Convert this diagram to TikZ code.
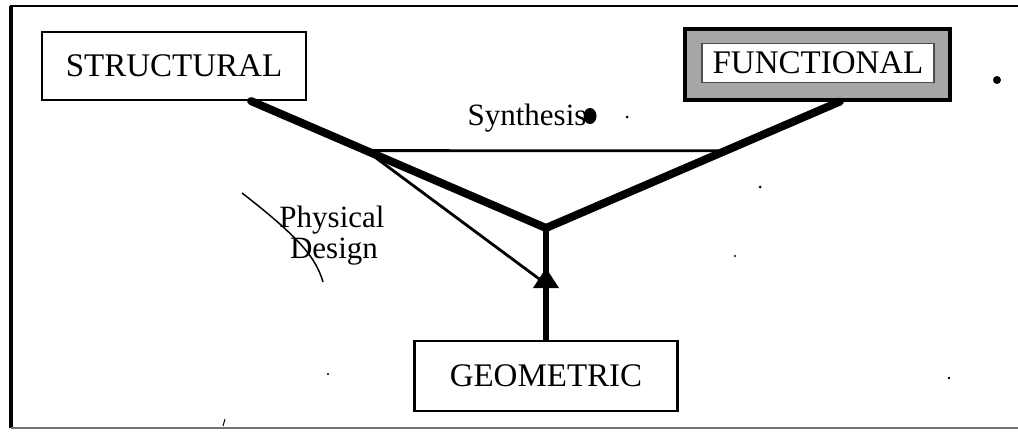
\documentclass[tikz,border=0pt]{standalone}
\usepackage{fontspec}
\setmainfont{Liberation Serif}
\usetikzlibrary{calc}
\tikzset{
  boxnode/.style={draw=black, line width=2.2pt, fill=white, inner sep=0pt, font=\fontsize{33}{33}\selectfont},
  thickline/.style={line width=8pt, line cap=round, line join=round},
  thinline/.style={line width=2.8pt},
  labeltext/.style={font=\fontsize{31}{31}\selectfont, inner sep=0pt},
  speck/.style={fill=black}
}
\begin{document}
\begin{tikzpicture}[x=1pt,y=-1pt]
\useasboundingbox (0,0) rectangle (1018,434);
\fill[white] (0,0) rectangle (1018,434);
% outer frame
\draw[line width=2.6pt] (10,6) -- (1018,6);
\draw[line width=3.2pt] (11,6) -- (11,428);
\draw[line width=1.8pt, black!55] (11,428) -- (1018,428);

% boxes
\node[boxnode, minimum width=264pt, minimum height=68pt] (S) at (174,66) {STRUCTURAL};
\node[draw=black, line width=4pt, fill=black!35, minimum width=265pt, minimum height=71pt, inner sep=0pt] (F) at (817,64) {};
\node[draw=black!70, line width=1.5pt, fill=white, minimum width=232pt, minimum height=39pt, inner sep=0pt, font=\fontsize{33}{33}\selectfont] (Ft) at (818,63) {FUNCTIONAL};
\node[boxnode, minimum width=263pt, minimum height=70pt] (G) at (546,376) {GEOMETRIC};

% junction and connectors
\coordinate (J) at (546,228);
\coordinate (a) at ([xshift=-56pt]S.south east);
\coordinate (b) at ([xshift=23pt]F.south);
\draw[thickline] (a) -- (J);
\draw[thickline] (b) -- (J);
\draw[line width=6.5pt] (J) -- (G.north);
\coordinate (SL) at ($(a)!0.39!(J)$);
\coordinate (SR) at ($(b)!0.39!(J)$);
\draw[thinline] (SL) -- (SR);
\coordinate (A) at (546,284);
\draw[thinline] (SL) -- (A);
\fill (A) ++(0,-16) -- ++(13,20) -- ++(-26,0) -- cycle;

% labels
\node[anchor=base, inner sep=0pt, font=\fontsize{31}{31}\selectfont] (syn) at (527,125) {Synthesis};
\fill (590,116) ellipse (6.5pt and 8pt);
\node[labeltext, anchor=base] (phy) at (332,227) {Physical};
\node[labeltext, anchor=base] (des) at (334,258) {Design};
\draw[line width=1.5pt] (242,193) .. controls (300,238) and (316,258) .. (323,282);

% specks
\fill[speck] (627,117) circle (1.5pt);
\fill[speck] (997,80) circle (4pt);
\fill[speck] (760,187) circle (1.5pt);
\fill[speck] (735,256) circle (1.2pt);
\fill[speck] (949,378) circle (1.3pt);
\fill[speck] (328,374) circle (1.2pt);
\draw[line width=1pt] (223,426) -- (225,419);
\end{tikzpicture}
\end{document}
